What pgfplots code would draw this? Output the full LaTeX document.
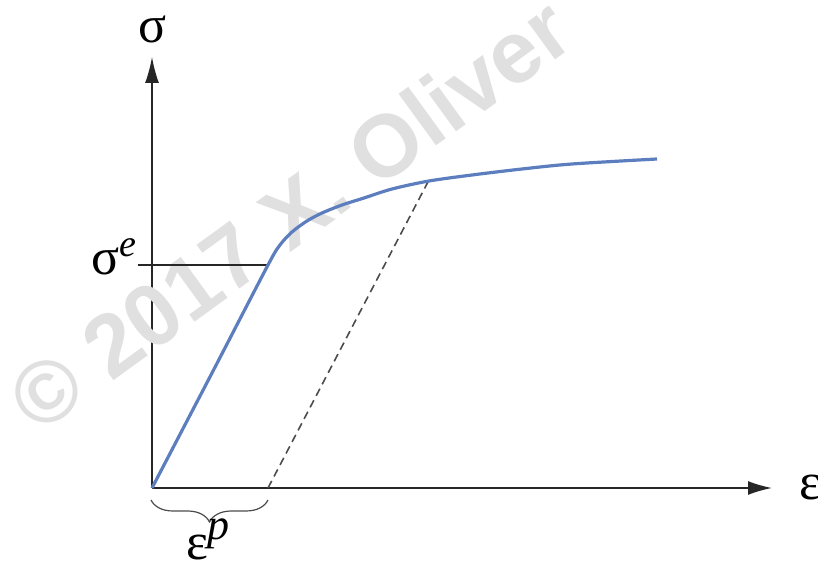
\documentclass[border=0pt]{standalone}
\usepackage{fontspec}
\setmainfont{Liberation Serif}
\newfontfamily\wmfont{Liberation Sans}
\usepackage{pgfplots}
\pgfplotsset{compat=1.18}
\usetikzlibrary{arrows.meta,decorations.pathreplacing}
\definecolor{curveblue}{RGB}{92,126,190}

\begin{document}
\begin{tikzpicture}
\begin{axis}[
  scale only axis, width=310pt, height=215.5pt,
  xmin=0, xmax=620, ymin=0, ymax=431,
  axis lines=left,
  axis line style={line width=0.8pt, black!85},
  x axis line style={-{Latex[length=12pt,width=7pt]}},
  y axis line style={-{Latex[length=13pt,width=7pt]}},
  xtick=\empty, ytick=\empty,
  clip=false,
]
\coordinate (BL) at (axis cs:-152,-83);
\coordinate (TR) at (axis cs:666,488);
% watermark
\node[rotate=36, text=black!12, font=\wmfont\bfseries\fontsize{44}{46}\selectfont] at (axis cs:138,274) {© 2017 X. Oliver};
% sigma^e level
\addplot[black!85, line width=0.8pt] coordinates {(-14,223) (116,223)};
% unloading line
\addplot[black!70, line width=0.8pt, dash pattern=on 4pt off 2.5pt] coordinates {(116,0) (278,310)};
% stress-strain curve
\addplot[curveblue, line width=1.6pt, smooth] coordinates {
  (0,0) (60,115) (116,223) (128,243) (140,256) (155,267) (170,275) (190,283)
  (212,290) (240,299) (277,307) (320,313) (370,319) (420,324) (505,329)};
% brace for plastic strain
\draw[decorate, decoration={brace, mirror, amplitude=11pt}, black!70, line width=0.6pt]
  (axis cs:-1,-12) -- (axis cs:116,-12);
% labels
\node[anchor=base, font=\fontsize{26}{28}\selectfont] at (axis cs:1,445) {σ};
\node[anchor=base west, font=\fontsize{26}{28}\selectfont] at (axis cs:640,-12) {ε};
\node[anchor=base east, font=\fontsize{26}{28}\selectfont, inner sep=0pt] at (axis cs:-15,213)
  {σ\raisebox{9pt}{\fontsize{19}{20}\selectfont\itshape e}};
\node[anchor=base, font=\fontsize{26}{28}\selectfont, inner sep=0pt] at (axis cs:56,-72)
  {ε\raisebox{10pt}{\fontsize{22}{22}\selectfont\itshape p}};
\end{axis}
\pgfresetboundingbox
\useasboundingbox (BL) rectangle (TR);
\end{tikzpicture}
\end{document}
